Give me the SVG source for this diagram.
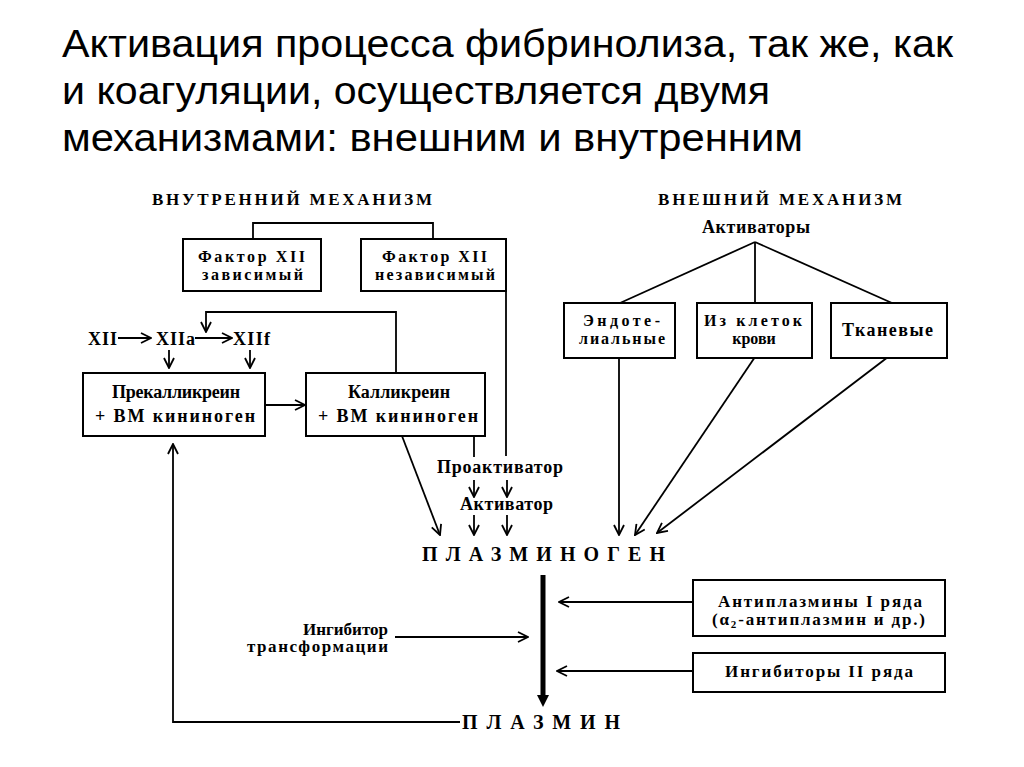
<svg xmlns="http://www.w3.org/2000/svg" width="1024" height="767" viewBox="0 0 1024 767">
<style>
.title{font-family:"Liberation Sans","Open Sans",sans-serif;font-size:38px;fill:#000}
.t{font-family:"Liberation Serif","DejaVu Serif",serif;font-weight:bold;font-size:18px;fill:#000}
.t2{font-family:"Liberation Serif","DejaVu Serif",serif;font-weight:bold;font-size:16px;fill:#000}
.h{font-family:"Liberation Serif","DejaVu Serif",serif;font-weight:bold;font-size:17px;fill:#000}
.p{font-family:"Liberation Serif","DejaVu Serif",serif;font-weight:bold;font-size:20px;fill:#000}
.n{font-family:"Liberation Serif","DejaVu Serif",serif;font-weight:bold;font-size:17px;fill:#000}
.box{fill:#fff;stroke:#000;stroke-width:2}
.ln{fill:none;stroke:#000;stroke-width:1.8}
.thick{fill:none;stroke:#000;stroke-width:5}
</style>
<defs>
<marker id="a" viewBox="0 0 12 12" refX="11" refY="6" markerWidth="12" markerHeight="12" markerUnits="userSpaceOnUse" orient="auto">
<path d="M1,1 L11,6 L1,11" fill="none" stroke="#000" stroke-width="1.8"/>
</marker>
<marker id="f" viewBox="0 0 12 12" refX="1" refY="6" markerWidth="12" markerHeight="12" markerUnits="userSpaceOnUse" orient="auto">
<path d="M0,0 L12,6 L0,12 Z" fill="#000"/>
</marker>
</defs>
<rect width="1024" height="767" fill="#fff"/>

<g id="title">
<text class="title" x="62" y="57" textLength="891" lengthAdjust="spacingAndGlyphs">Активация процесса фибринолиза, так же, как</text>
<text class="title" x="62" y="104" textLength="708" lengthAdjust="spacingAndGlyphs">и коагуляции, осуществляется двумя</text>
<text class="title" x="62" y="151" textLength="741" lengthAdjust="spacingAndGlyphs">механизмами: внешним и внутренним</text>
</g>

<g id="connectors">
<path class="ln" d="M253,239 V223 H433 V239"/>
<path class="ln" d="M506,239 V456"/>
<path class="ln" d="M396,373 V312 H206 V332" marker-end="url(#a)"/>
<path class="ln" d="M118,338 H151" marker-end="url(#a)"/>
<path class="ln" d="M195,338 H232" marker-end="url(#a)"/>
<path class="ln" d="M169,350 V368" marker-end="url(#a)"/>
<path class="ln" d="M250,350 V368" marker-end="url(#a)"/>
<path class="ln" d="M265,405 H305" marker-end="url(#a)"/>
<path class="ln" d="M474,436 V457"/>
<path class="ln" d="M474,480 V497" marker-end="url(#a)"/>
<path class="ln" d="M507,480 V497" marker-end="url(#a)"/>
<path class="ln" d="M474,515 V535" marker-end="url(#a)"/>
<path class="ln" d="M507,515 V535" marker-end="url(#a)"/>
<path class="ln" d="M402,436 L440,535" marker-end="url(#a)"/>
<path class="ln" d="M755,242 L620,303"/>
<path class="ln" d="M755,242 V303"/>
<path class="ln" d="M755,242 L892,303"/>
<path class="ln" d="M619,357 V535" marker-end="url(#a)"/>
<path class="ln" d="M755,357 L635,535" marker-end="url(#a)"/>
<path class="ln" d="M888,357 L657,533" marker-end="url(#a)"/>
<path class="thick" d="M543,575 V696" marker-end="url(#f)"/>
<path class="ln" d="M693,602 H559" marker-end="url(#a)"/>
<path class="ln" d="M693,671 H557" marker-end="url(#a)"/>
<path class="ln" d="M395,637 H528" marker-end="url(#a)"/>
<path class="ln" d="M460,722 H173 V444" marker-end="url(#a)"/>
</g>

<g id="internal-header">
<text class="h" x="152" y="205" textLength="280">ВНУТРЕННИЙ МЕХАНИЗМ</text>
</g>
<g id="external-header">
<text class="h" x="658" y="205" textLength="244">ВНЕШНИЙ МЕХАНИЗМ</text>
</g>
<g id="activators">
<text class="t" x="702" y="233" textLength="108">Активаторы</text>
</g>

<g id="factor12-dep">
<rect class="box" x="183" y="239" width="138" height="52"/>
<text class="t2" x="198" y="262" textLength="107">Фактор XII</text>
<text class="t2" x="202" y="280" textLength="101">зависимый</text>
</g>
<g id="factor12-indep">
<rect class="box" x="361" y="239" width="145" height="52"/>
<text class="t2" x="382" y="262" textLength="105">Фактор XII</text>
<text class="t2" x="375" y="280" textLength="120">независимый</text>
</g>

<g id="xii">
<text class="t" x="88" y="345" textLength="29">XII</text>
</g>
<g id="xiia">
<text class="t" x="156" y="345" textLength="39">XIIa</text>
</g>
<g id="xiif">
<text class="t" x="233" y="345" textLength="37">XIIf</text>
</g>

<g id="prekallikrein">
<rect class="box" x="83" y="373" width="182" height="63"/>
<text class="t" x="112" y="398" textLength="128">Прекалликреин</text>
<text class="t" x="95" y="422" textLength="160">+ ВМ кининоген</text>
</g>
<g id="kallikrein">
<rect class="box" x="306" y="373" width="179" height="63"/>
<text class="t" x="348" y="398" textLength="102">Калликреин</text>
<text class="t" x="318" y="422" textLength="160">+ ВМ кининоген</text>
</g>

<g id="proactivator">
<text class="t" x="437" y="473" textLength="126">Проактиватор</text>
</g>
<g id="activator">
<text class="t" x="460" y="510" textLength="93">Активатор</text>
</g>

<g id="endothelial">
<rect class="box" x="564" y="303" width="111" height="55"/>
<text class="t2" x="583" y="326" textLength="77">Эндоте-</text>
<text class="t2" x="579" y="344" textLength="86">лиальные</text>
</g>
<g id="blood-cells">
<rect class="box" x="697" y="303" width="115" height="55"/>
<text class="t2" x="704" y="326" textLength="98">Из клеток</text>
<text class="t2" x="754" y="344" text-anchor="middle">крови</text>
</g>
<g id="tissue">
<rect class="box" x="831" y="303" width="116" height="55"/>
<text class="t" x="842" y="336" textLength="91">Тканевые</text>
</g>

<g id="plasminogen">
<text class="p" x="422" y="561" textLength="243">ПЛАЗМИНОГЕН</text>
</g>

<g id="inhibitor-transform">
<text class="n" x="388" y="635" text-anchor="end">Ингибитор</text>
<text class="n" x="247" y="652" textLength="141">трансформации</text>
</g>

<g id="antiplasmins">
<rect class="box" x="693" y="580" width="252" height="56"/>
<text class="n" x="718" y="607" textLength="204">Антиплазмины I ряда</text>
<text class="n" x="712" y="625" textLength="213">(α<tspan font-size="11" dy="3">2</tspan><tspan dy="-3">-антиплазмин и др.)</tspan></text>
</g>
<g id="inhibitors2">
<rect class="box" x="693" y="653" width="252" height="39"/>
<text class="n" x="725" y="677" textLength="188">Ингибиторы II ряда</text>
</g>

<g id="plasmin">
<text class="p" x="462" y="729" textLength="158">ПЛАЗМИН</text>
</g>
</svg>
